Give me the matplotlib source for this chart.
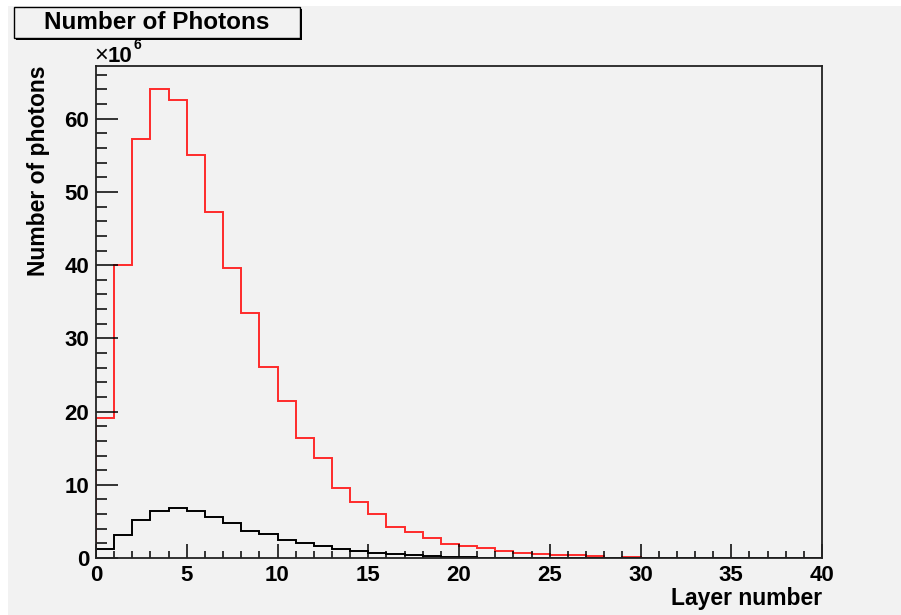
import matplotlib.pyplot as plt
import numpy as np
from matplotlib.patches import Rectangle
from matplotlib.ticker import MultipleLocator

# layer bins 0..40, values in units of 1e6 photons
edges = np.arange(0, 41)
red = [19.1, 40.0, 57.2, 64.0, 62.6, 55.1, 47.3, 39.6, 33.4, 26.1,
       21.4, 16.4, 13.7, 9.5, 7.7, 6.0, 4.3, 3.5, 2.7, 1.9,
       1.6, 1.4, 0.95, 0.65, 0.6, 0.4, 0.4, 0.23, 0.0, 0.2,
       0, 0, 0, 0, 0, 0, 0, 0, 0, 0]
black = [1.2, 3.1, 5.2, 6.45, 6.85, 6.45, 5.6, 4.8, 3.75, 3.25,
         2.5, 2.05, 1.65, 1.25, 0.9, 0.72, 0.55, 0.4, 0.3, 0.15,
         0.1, 0.05, 0, 0, 0, 0, 0, 0, 0, 0,
         0, 0, 0, 0, 0, 0, 0, 0, 0, 0]

plt.rcParams['font.family'] = ['Liberation Sans', 'DejaVu Sans']
plt.rcParams['font.weight'] = 'bold'

bg = '#f2f2f2'
fig = plt.figure(figsize=(9.01, 6.15), dpi=100, facecolor='white')
# canvas fill (ROOT grey), with a thin white margin on left/top
fig.patches.append(Rectangle((8/901, 0), 1, 1 - 6/615, transform=fig.transFigure,
                             facecolor=bg, edgecolor='none', zorder=-10))

ax = fig.add_axes([96/901, 1 - 558/615, (822 - 96)/901, (558 - 66)/615])
ax.set_facecolor(bg)

ax.stairs(red, edges, color='#ff2a2a', lw=1.4, baseline=0)
ax.stairs(black, edges, color='black', lw=1.4, baseline=0)

ax.set_xlim(0, 40)
ax.set_ylim(0, 67.2)

for s in ['left', 'bottom', 'top', 'right']:
    ax.spines[s].set_color('#222222')
    ax.spines[s].set_linewidth(1.3)
    ax.spines[s].set_zorder(5)

ax.xaxis.set_major_locator(MultipleLocator(5))
ax.xaxis.set_minor_locator(MultipleLocator(1))
ax.yaxis.set_major_locator(MultipleLocator(10))
ax.yaxis.set_minor_locator(MultipleLocator(2))
ax.tick_params(axis='x', which='major', direction='in', length=10, width=1.1, labelsize=16, pad=5)
ax.tick_params(axis='x', which='minor', direction='in', length=5, width=1.1)
ax.tick_params(axis='y', which='major', direction='in', length=16, width=1.1, labelsize=16, pad=5)
ax.tick_params(axis='y', which='minor', direction='in', length=8, width=1.1)
for lab in ax.get_xticklabels() + ax.get_yticklabels():
    lab.set_fontweight('bold')

ax.set_xlabel('Layer number', loc='right', fontsize=16.5, fontweight='bold', labelpad=1)
ax.set_ylabel('Number of photons', loc='top', fontsize=16.5, fontweight='bold', labelpad=10)

# exponent label
fig.text(94/901, 1 - 62/615, '\u00d7', fontsize=17, fontweight='normal', va='baseline')
fig.text(108/901, 1 - 62/615, '10', fontsize=16, fontweight='bold', va='baseline')
fig.text(133/901, 1 - 49/615, '6', fontsize=10, fontweight='bold', va='baseline')

# title box with shadow
fig.patches.append(Rectangle((16/901, 1 - 40/615), 286/901, 31/615, transform=fig.transFigure,
                             facecolor='black', edgecolor='none', zorder=1))
fig.patches.append(Rectangle((14/901, 1 - 38/615), 286/901, 31/615, transform=fig.transFigure,
                             facecolor=bg, edgecolor='black', lw=1.0, zorder=2))
fig.text(157/901, 1 - 22.5/615, 'Number of Photons', fontsize=17.5, fontweight='bold',
         ha='center', va='center', zorder=3)

fig.savefig('out.png', dpi=100, facecolor=fig.get_facecolor())
